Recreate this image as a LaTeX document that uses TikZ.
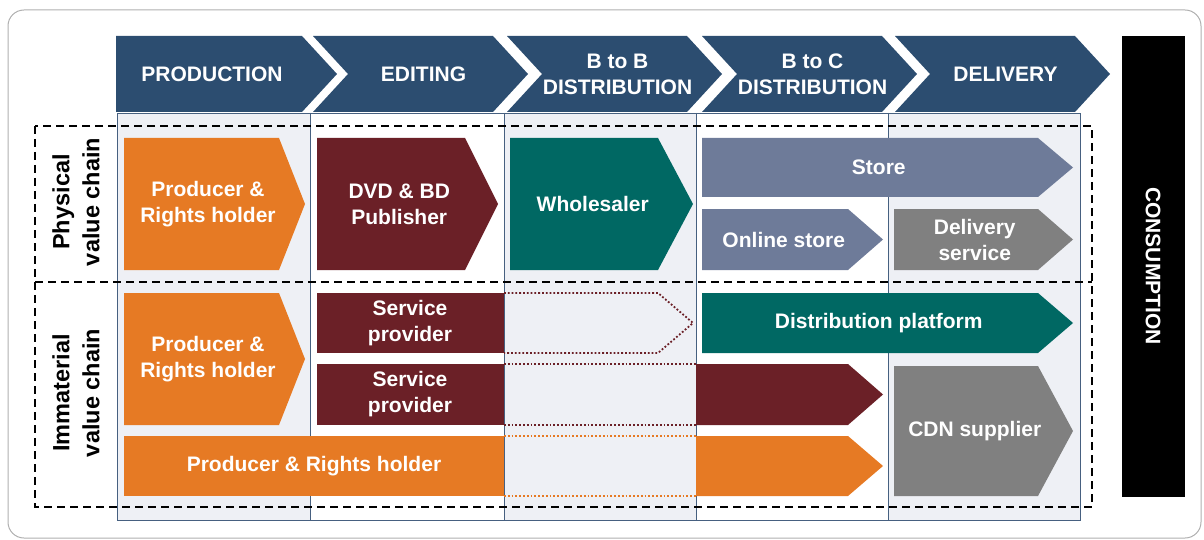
\documentclass[tikz,border=0pt]{standalone}
\usepackage{fontspec}
\setmainfont{Liberation Sans}
\usetikzlibrary{positioning}
\definecolor{hdrblue}{RGB}{44,77,112}
\definecolor{prodorange}{RGB}{230,122,36}
\definecolor{editred}{RGB}{107,32,39}
\definecolor{distteal}{RGB}{0,104,99}
\definecolor{storeslate}{RGB}{110,123,153}
\definecolor{delivgray}{RGB}{128,128,128}
\definecolor{panelgray}{RGB}{238,240,245}
\definecolor{panelline}{RGB}{70,96,128}
\definecolor{framegray}{RGB}{175,175,175}

\tikzset{
  boxtext/.style={text=white, font=\bfseries\fontsize{21}{26}\selectfont, align=center, inner sep=0pt},
  rowlabel/.style={font=\bfseries\fontsize{23.5}{30}\selectfont, align=center, inner sep=0pt, rotate=90},
  chaindash/.style={draw=black, line width=1.6pt, dash pattern=on 8pt off 5pt},
  gapdots/.style={line width=1.8pt, dotted}
}

% chevron shape: colour, left, top, base, tip, bottom
\newcommand{\chevfill}[6]{%
  \fill[#1] (#2,#3) -- (#4,#3) -- (#5,{(#3+#6)/2}) -- (#4,#6) -- (#2,#6) -- cycle;}
% chevron with its label: name, colour, left, top, base, tip, bottom, text
\newcommand{\chevbox}[8]{%
  \chevfill{#2}{#3}{#4}{#5}{#6}{#7}
  \node[boxtext] (#1) at ({(#3+(#5+#6)/2)/2},{(#4+#7)/2}) {#8};}

\begin{document}
\begin{tikzpicture}[x=1pt, y=-1pt]
  \useasboundingbox (0,0) rectangle (1204,540);
  \draw[framegray, line width=1pt, rounded corners=16pt] (8,10) rectangle (1201,538);

  % column panels
  \foreach \l/\r in {117/310, 504/696, 888/1080}
    \fill[panelgray] (\l,113) rectangle (\r,520);
  \draw[panelline, line width=0.8pt] (117,113) rectangle (1080,520);
  \foreach \x in {310,504,696,888}
    \draw[panelline, line width=0.8pt] (\x,113) -- (\x,520);

  % header chevrons
  \foreach \l/\d/\r/\n/\txt in {116/0/302/prod/PRODUCTION, 313/35/493/edit/EDITING,
      507/35/687/btob/{B to B\\DISTRIBUTION}, 702/35/882/btoc/{B to C\\DISTRIBUTION},
      895/35/1075/deliv/DELIVERY}{
    \fill[hdrblue] (\l,36) -- (\r,36) -- ({\r+35},74) -- (\r,112) -- (\l,112) -- ({\l+\d},74) -- cycle;
    \node[boxtext] (hdr-\n) at ({(\l+\d+\r)/2+3},74) {\txt};
  }

  % value chains
  \draw[chaindash] (35,126) rectangle (1092,507);
  \draw[chaindash] (35,282) -- (1092,282);
  \node[rowlabel] (phys) at (76,202) {Physical\\value chain};
  \node[rowlabel] (immat) at (76,393) {Immaterial\\value chain};

  % physical
  \chevbox{prodphys}{prodorange}{124}{138}{279}{305}{270}{Producer \&\\Rights holder}
  \chevbox{publisher}{editred}{317}{138}{465}{498}{270}{DVD \& BD\\Publisher}
  \chevbox{wholesaler}{distteal}{510}{138}{658}{693}{270}{Wholesaler}
  \chevbox{store}{storeslate}{702}{138}{1038}{1073}{197}{Store}
  \chevbox{online}{storeslate}{702}{209}{848}{883}{270}{Online store}
  \chevbox{delivsvc}{delivgray}{894}{209}{1038}{1073}{270}{Delivery\\service}

  % immaterial
  \chevbox{prodimm}{prodorange}{124}{293}{279}{305}{425}{Producer \&\\Rights holder}
  \fill[editred] (317,293) rectangle (504,353);
  \node[boxtext] (svcone) at (410,323) {Service\\provider};
  \draw[editred, gapdots] (504,293) -- (658,293) -- (693,323) -- (658,353) -- (504,353);
  \chevbox{platform}{distteal}{702}{293}{1038}{1073}{353}{Distribution platform}

  \fill[editred] (317,364) rectangle (504,425);
  \node[boxtext] (svctwo) at (410,394) {Service\\provider};
  \draw[editred, gapdots] (504,364) -- (696,364) (504,425) -- (696,425);
  \chevfill{editred}{696}{364}{848}{883}{425}

  \fill[prodorange] (124,436) rectangle (504,496);
  \node[boxtext] (prodbar) at (314,466) {Producer \& Rights holder};
  \draw[prodorange, gapdots] (504,436) -- (696,436) (504,496) -- (696,496);
  \chevfill{prodorange}{696}{436}{848}{883}{496}
  \chevbox{cdn}{delivgray}{894}{366}{1038}{1073}{496}{CDN supplier}

  % consumption
  \fill[black] (1122,36) rectangle (1185,497);
  \node[boxtext, rotate=-90] (consum) at (1153,266) {CONSUMPTION};
\end{tikzpicture}
\end{document}
